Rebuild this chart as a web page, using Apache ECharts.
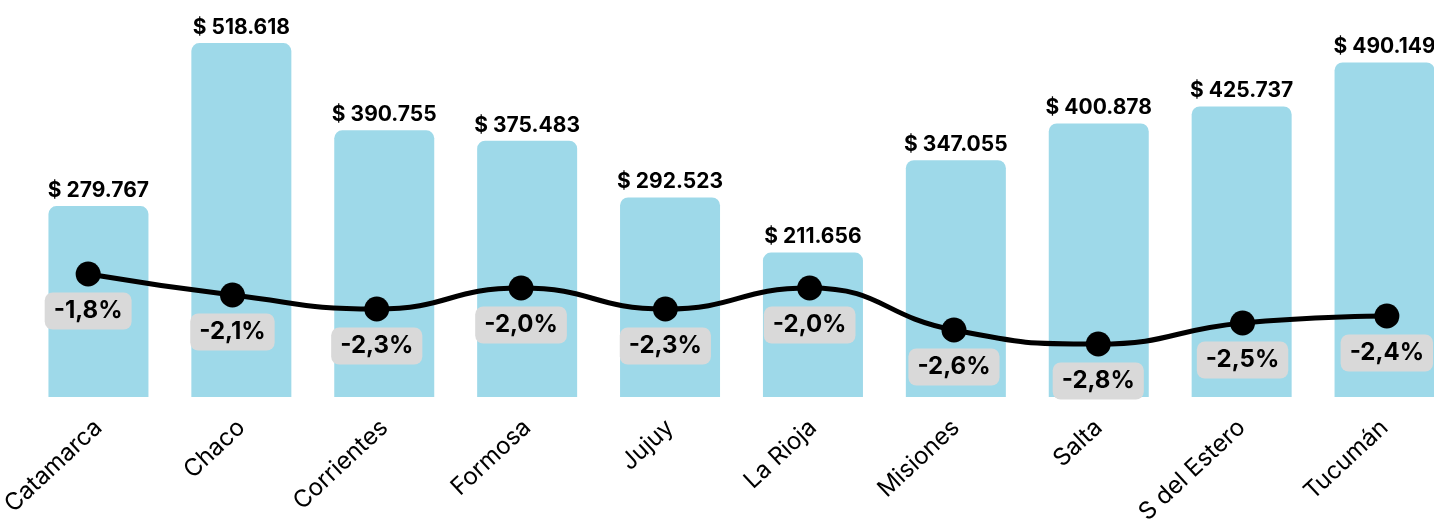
<!DOCTYPE html>
<html>
<head>
<meta charset="utf-8">
<script src="https://cdn.jsdelivr.net/npm/echarts@6/dist/echarts.min.js"></script>
<style>
  html, body { margin: 0; padding: 0; background: #fff; }
  #chart { width: 1434px; height: 521px; }
</style>
</head>
<body>
<div id="chart"></div>
<script>
const provincias = ['Catamarca', 'Chaco', 'Corrientes', 'Formosa', 'Jujuy', 'La Rioja', 'Misiones', 'Salta', 'S del Estero', 'Tucumán'];
const montos = [279767, 518618, 390755, 375483, 292523, 211656, 347055, 400878, 425737, 490149];
const variacion = [-1.8, -2.1, -2.3, -2.0, -2.3, -2.0, -2.6, -2.8, -2.5, -2.4];

const fuente = 'Inter, "Noto Sans", sans-serif';

const miles = (v) => String(v).replace(/\B(?=(\d{3})+(?!\d))/g, '.');

const myChart = echarts.init(document.getElementById('chart'));
const option = {
  animation: false,
  textStyle: { fontFamily: fuente },
  grid: [
    { left: 27, width: 1429, top: 10, height: 387, outerBoundsMode: 'none', containLabel: false },
    { left: 16, width: 1443, top: 10, height: 387, outerBoundsMode: 'none', containLabel: false }
  ],
  xAxis: [
    {
      type: 'category',
      gridIndex: 0,
      data: provincias,
      axisLine: { show: false },
      axisTick: { show: false },
      axisLabel: {
        rotate: 43,
        margin: 27,
        color: '#000',
        fontSize: 24,
        fontFamily: fuente,
        interval: 0
      }
    },
    {
      type: 'category',
      gridIndex: 1,
      data: provincias,
      show: false
    }
  ],
  yAxis: [
    { type: 'value', gridIndex: 0, min: 0, max: 567100, show: false },
    { type: 'value', gridIndex: 1, min: -3.5571, max: 1.9714, show: false }
  ],
  series: [
    {
      name: 'Monto',
      type: 'bar',
      xAxisIndex: 0,
      yAxisIndex: 0,
      barWidth: 100,
      data: montos,
      itemStyle: {
        color: '#9ed9e9',
        borderRadius: [8, 8, 0, 0]
      },
      label: {
        show: true,
        position: 'top',
        distance: 5,
        color: '#000',
        fontWeight: 'bold',
        fontSize: 21,
        fontFamily: fuente,
        formatter: (p) => '$ ' + miles(p.value)
      }
    },
    {
      name: 'Variación',
      type: 'line',
      xAxisIndex: 1,
      yAxisIndex: 1,
      z: 5,
      smooth: 0.5,
      symbol: 'circle',
      symbolSize: 25,
      data: variacion,
      lineStyle: { color: '#000', width: 5 },
      itemStyle: { color: '#000' },
      label: {
        show: true,
        position: 'bottom',
        distance: 6,
        color: '#000',
        fontWeight: 'bold',
        fontSize: 24,
        lineHeight: 27,
        fontFamily: fuente,
        backgroundColor: '#d9d9d9',
        borderRadius: 8,
        padding: [5, 9],
        formatter: (p) => p.value.toFixed(1).replace('.', ',') + '%'
      }
    }
  ]
};
myChart.setOption(option);
</script>
</body>
</html>
